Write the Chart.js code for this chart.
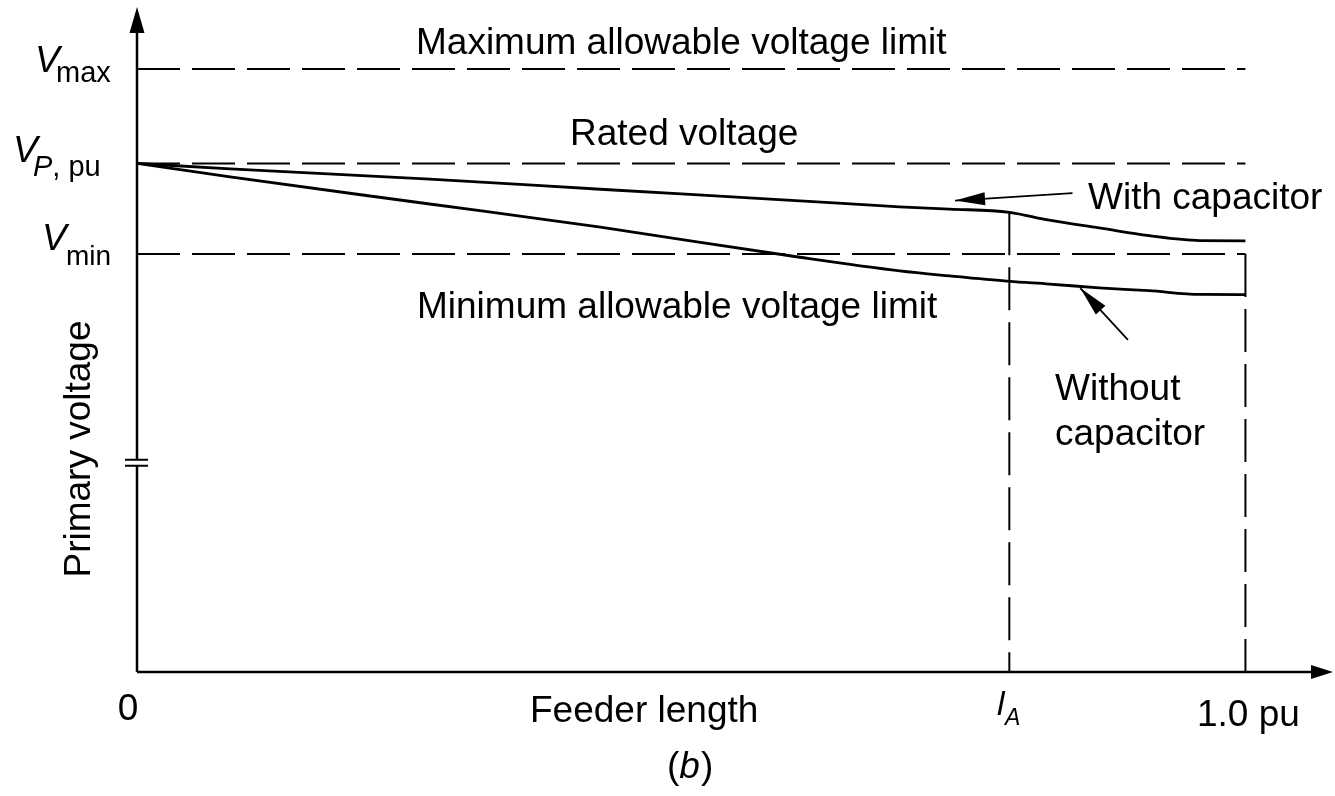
<!DOCTYPE html>
<html>
<head>
<meta charset="utf-8">
<title>Primary voltage vs feeder length</title>
<script src="https://cdn.jsdelivr.net/npm/chart.js@4.4.1/dist/chart.umd.min.js"></script>
<style>
  html, body { margin: 0; padding: 0; background: #fff; }
  #wrap { width: 1335px; height: 796px; }
</style>
</head>
<body>
<div id="wrap"><canvas id="chart" width="1335" height="796"></canvas></div>
<script>
// feeder length (pu) and primary voltage (pu)
const feederLength     = [0, 0.084, 0.264, 0.418, 0.598, 0.688, 0.733, 0.787, 0.823, 0.868, 0.913, 0.959, 1.0];
const withCapacitor    = [1.000, 0.9971, 0.9917, 0.9863, 0.9802, 0.9770, 0.9758, 0.9741, 0.9699, 0.9658, 0.9617, 0.9591, 0.9590];
const withoutCapacitor = [1.000, 0.9928, 0.9785, 0.9662, 0.9503, 0.9431, 0.9404, 0.9375, 0.9361, 0.9341, 0.9326, 0.9306, 0.9305];

const V_MAX = 1.05;
const V_RATED = 1.0;
const V_MIN = 0.952;
const L_A = 0.787;       // capacitor location
const FEEDER_END = 1.0;

const X_RANGE = [0, 1.079];
const Y_RANGE = [0.7307, 1.0828];
const Y_BREAK = 0.8415;

// label arrows, [tail, tip] in data units
const arrowWith    = [[0.844, 0.9842], [0.738, 0.9803]];
const arrowWithout = [[0.894, 0.9066], [0.851, 0.9340]];

const FONT = '"Liberation Sans", Arial, Helvetica, sans-serif';
const DASH = [43, 12];

const pts = (xs, ys) => xs.map((x, i) => ({ x: x, y: ys[i] }));
const laVoltage = withCapacitor[feederLength.indexOf(L_A)];

function refLine(y) {
    return {
        data: [{ x: 0, y: y }, { x: FEEDER_END, y: y }],
        borderColor: '#000', borderWidth: 2, borderDash: DASH,
        pointRadius: 0, fill: false
    };
}

function txt(ctx, s, x, y, size, style, align) {
    ctx.font = (style ? style + ' ' : '') + size + 'px ' + FONT;
    ctx.textAlign = align || 'left';
    ctx.fillText(s, x, y);
    return x + ctx.measureText(s).width;
}

function arrowHead(ctx, x1, y1, x2, y2, len, half) {
    const a = Math.atan2(y2 - y1, x2 - x1);
    const bx = x2 - len * Math.cos(a), by = y2 - len * Math.sin(a);
    ctx.beginPath();
    ctx.moveTo(x2, y2);
    ctx.lineTo(bx + half * Math.sin(a), by - half * Math.cos(a));
    ctx.lineTo(bx - half * Math.sin(a), by + half * Math.cos(a));
    ctx.closePath();
    ctx.fill();
}

const decorations = {
    id: 'decorations',
    afterDatasetsDraw(chart) {
        const ctx = chart.ctx;
        const xs = chart.scales.x, ys = chart.scales.y;
        const x0 = xs.getPixelForValue(0);
        const yb = ys.getPixelForValue(Y_RANGE[0]);
        const top = ys.getPixelForValue(Y_RANGE[1]);
        const right = xs.getPixelForValue(X_RANGE[1]);

        ctx.save();
        ctx.strokeStyle = '#000';
        ctx.fillStyle = '#000';
        ctx.setLineDash([]);

        // axes with arrows
        ctx.lineWidth = 2.5;
        ctx.beginPath();
        ctx.moveTo(x0, yb);
        ctx.lineTo(x0, top + 10);
        ctx.moveTo(x0, yb);
        ctx.lineTo(right - 10, yb);
        ctx.stroke();
        arrowHead(ctx, x0, yb, x0, top, 26, 7.5);
        arrowHead(ctx, x0, yb, right, yb, 22, 7);

        // axis break
        const yk = ys.getPixelForValue(Y_BREAK);
        ctx.fillStyle = '#fff';
        ctx.fillRect(x0 - 3, yk - 2.5, 6, 5);
        ctx.fillStyle = '#000';
        ctx.lineWidth = 2;
        ctx.beginPath();
        ctx.moveTo(x0 - 12, yk - 3); ctx.lineTo(x0 + 11, yk - 3);
        ctx.moveTo(x0 - 12, yk + 3); ctx.lineTo(x0 + 11, yk + 3);
        ctx.stroke();

        // label arrows
        ctx.lineWidth = 1.8;
        [arrowWith, arrowWithout].forEach(a => {
            const tx = xs.getPixelForValue(a[0][0]), ty = ys.getPixelForValue(a[0][1]);
            const hx = xs.getPixelForValue(a[1][0]), hy = ys.getPixelForValue(a[1][1]);
            ctx.beginPath();
            ctx.moveTo(tx, ty);
            ctx.lineTo(hx, hy);
            ctx.stroke();
            arrowHead(ctx, tx, ty, hx, hy, 30, 6.5);
        });

        // texts
        ctx.textBaseline = 'alphabetic';
        txt(ctx, 'Maximum allowable voltage limit', 416, 54, 37);
        txt(ctx, 'Rated voltage', 570, 145, 37);
        txt(ctx, 'With capacitor', 1088, 209, 37);
        txt(ctx, 'Minimum allowable voltage limit', 417, 318, 37);
        txt(ctx, 'Without', 1055, 400, 37);
        txt(ctx, 'capacitor', 1055, 445, 37);

        // y labels
        txt(ctx, 'V', 35, 72, 37, 'italic');
        txt(ctx, 'max', 56, 82, 29);
        let p = txt(ctx, 'V', 13, 162, 37, 'italic');
        p = txt(ctx, 'P', 33, 176, 29, 'italic');
        txt(ctx, ', pu', p, 176, 29);
        txt(ctx, 'V', 42, 250, 37, 'italic');
        txt(ctx, 'min', 66, 265, 28);

        // x labels
        txt(ctx, '0', 128, 720, 37, '', 'center');
        txt(ctx, 'Feeder length', 530, 722, 37);
        txt(ctx, 'l', 997, 715, 34, 'italic');
        txt(ctx, 'A', 1005, 725, 23, 'italic');
        txt(ctx, '1.0 pu', 1197, 726, 37);
        p = txt(ctx, '(', 667, 778, 37);
        p = txt(ctx, 'b', p, 778, 37, 'italic');
        txt(ctx, ')', p + 1, 778, 37);

        // rotated axis title
        ctx.translate(90, 449);
        ctx.rotate(-Math.PI / 2);
        txt(ctx, 'Primary voltage', 0, 0, 37, '', 'center');
        ctx.restore();
    }
};

new Chart(document.getElementById('chart'), {
    type: 'line',
    data: {
        datasets: [
            refLine(V_MAX),
            refLine(V_RATED),
            refLine(V_MIN),
            {
                data: [{ x: L_A, y: laVoltage }, { x: L_A, y: Y_RANGE[0] }],
                borderColor: '#000', borderWidth: 2, borderDash: DASH,
                pointRadius: 0, fill: false
            },
            {
                data: [{ x: FEEDER_END, y: V_MIN }, { x: FEEDER_END, y: Y_RANGE[0] }],
                borderColor: '#000', borderWidth: 2, borderDash: DASH,
                pointRadius: 0, fill: false
            },
            {
                label: 'With capacitor',
                data: pts(feederLength, withCapacitor),
                borderColor: '#000', borderWidth: 2.8,
                cubicInterpolationMode: 'monotone',
                pointRadius: 0, fill: false
            },
            {
                label: 'Without capacitor',
                data: pts(feederLength, withoutCapacitor),
                borderColor: '#000', borderWidth: 2.8,
                cubicInterpolationMode: 'monotone',
                pointRadius: 0, fill: false
            }
        ]
    },
    options: {
        responsive: false,
        animation: false,
        layout: { padding: { left: 137, right: 2, top: 7, bottom: 124 } },
        plugins: { legend: { display: false }, tooltip: { enabled: false } },
        scales: {
            x: { type: 'linear', display: false, min: X_RANGE[0], max: X_RANGE[1] },
            y: { type: 'linear', display: false, min: Y_RANGE[0], max: Y_RANGE[1] }
        }
    },
    plugins: [decorations]
});
</script>
</body>
</html>
